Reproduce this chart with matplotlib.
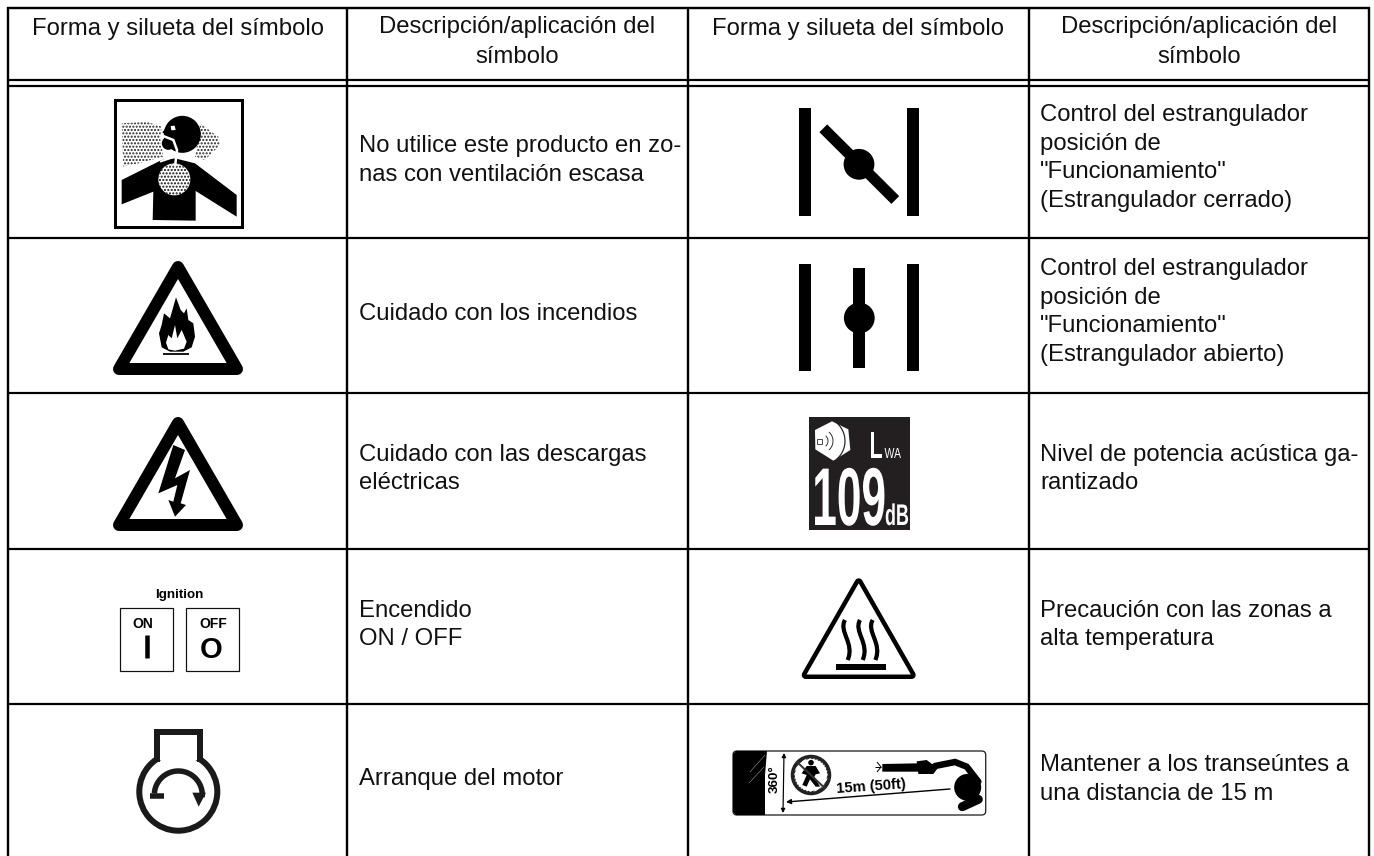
import numpy as np
import matplotlib
matplotlib.use("Agg")
import matplotlib.pyplot as plt
from matplotlib.patches import Polygon, Circle, Rectangle, FancyBboxPatch, PathPatch
from matplotlib.path import Path
from matplotlib.patheffects import AbstractPathEffect
from matplotlib.transforms import Affine2D

plt.rcParams['font.family'] = ['Liberation Sans', 'DejaVu Sans']

# table text
headers = ["Forma y silueta del símbolo", "Descripción/aplicación del\nsímbolo",
           "Forma y silueta del símbolo", "Descripción/aplicación del\nsímbolo"]
left_desc = [["No utilice este producto en zo-", "nas con ventilación escasa"],
             ["Cuidado con los incendios"],
             ["Cuidado con las descargas", "eléctricas"],
             ["Encendido", "ON / OFF"],
             ["Arranque del motor"]]
right_desc = [["Control del estrangulador", "posición de", '"Funcionamiento"', "(Estrangulador cerrado)"],
              ["Control del estrangulador", "posición de", '"Funcionamiento"', "(Estrangulador abierto)"],
              ["Nivel de potencia acústica ga-", "rantizado"],
              ["Precaución con las zonas a", "alta temperatura"],
              ["Mantener a los transeúntes a", "una distancia de 15 m"]]

# table grid, in pixels of the page
col_x = [8, 347, 688, 1029, 1369]
head_y = [8, 80, 86]
row_y = [238, 393, 549, 704]
row_mid = [162, 316, 470.5, 626.5, 781]
FS = 17.2
LH = 28.8
PX = 72 / 100  # one pixel in points

fig = plt.figure(figsize=(13.74, 8.56), dpi=100)
ax = fig.add_axes([0, 0, 1, 1])
ax.set_xlim(0, 1374)
ax.set_ylim(856, 0)
ax.axis('off')


class Squeeze(AbstractPathEffect):
    # narrow glyphs, the sign uses a condensed face
    def __init__(self, sx, dx=0):
        super().__init__()
        self.sx = sx
        self.dx = dx

    def draw_path(self, renderer, gc, tpath, affine, rgbFace=None):
        t = Affine2D().scale(self.sx, 1) + affine + Affine2D().translate(self.dx, 0)
        renderer.draw_path(gc, tpath, t, rgbFace)


def zp(ox, oy, pts):
    # points read in a 3x crop, back to page pixels
    return [(ox + x / 3, oy + y / 3) for x, y in pts]


def poly(pts, fc='k', **kw):
    kw.setdefault('lw', 0)
    p = Polygon(pts, closed=True, facecolor=fc, edgecolor=kw.pop('ec', fc), **kw)
    ax.add_patch(p)
    return p


def line(xs, ys, w, c='k', cap='butt', z=None):
    ax.plot(xs, ys, color=c, lw=w * PX, solid_capstyle=cap, solid_joinstyle='miter', zorder=z)


def warn_triangle(cx, top, bottom, half, thick, r):
    ya, yb, hw = top + r, bottom - r, half - r
    ax.add_patch(Polygon([(cx, ya), (cx - hw, yb), (cx + hw, yb)], facecolor='k', edgecolor='k',
                         lw=2 * r * PX, joinstyle='round'))
    d = thick - r
    poly([(cx, ya + 2 * d), (cx - hw + 1.73 * d, yb - d), (cx + hw - 1.73 * d, yb - d)], fc='w')


# grid
for x in col_x:
    line([x, x], [head_y[0] - 1, 856], 2.4)
line([col_x[0] - 1, col_x[-1] + 1], [head_y[0], head_y[0]], 2.4)
for y in head_y[1:] + row_y:
    line([col_x[0], col_x[-1]], [y, y], 2.2)

# header and description text
for i, h in enumerate(headers):
    parts = h.split("\n")
    ys = [35] if len(parts) == 1 else [33, 63]
    for s, y in zip(parts, ys):
        ax.text((col_x[i] + col_x[i + 1]) / 2, y, s, ha='center', va='baseline', fontsize=FS, color='#111111')

for rows, x in [(left_desc, 359), (right_desc, 1040)]:
    for mid, lines in zip(row_mid, rows):
        off = 2 if len(lines) == 4 else 4.5
        y0 = mid + off - (len(lines) - 1) * LH / 2
        for j, s in enumerate(lines):
            ax.text(x, y0 + j * LH, s, ha='left', va='baseline', fontsize=FS, color='#111111')

# --- ventilation sign
ax.add_patch(Rectangle((115, 100), 127, 127, fc='w', ec='k', lw=3 * PX))
for s in ([(50, 85), (125, 80), (170, 95), (165, 130), (175, 185), (100, 205), (55, 215)],
          [(285, 85), (340, 125), (345, 150), (300, 195), (270, 185), (280, 130)]):
    ax.add_patch(Polygon(zp(105, 95, s), facecolor='w', edgecolor='#222222', lw=0, hatch='.....'))
poly(zp(105, 95, [(50, 255), (170, 195), (210, 190), (270, 205), (395, 300), (395, 365), (272, 288), (272, 377), (143, 375), (145, 290), (50, 328)]))
ax.add_patch(Circle(zp(105, 95, [(232, 118)])[0], 18.5, fc='k', lw=0))
poly(zp(105, 95, [(172, 112), (205, 72), (235, 100), (215, 150), (190, 125)]))
ax.add_patch(Circle(zp(105, 95, [(190, 145)])[0], 6.5, fc='k', lw=0))
poly(zp(105, 95, [(197, 93), (209, 92), (212, 105), (199, 106)]), fc='w')
tube = zp(105, 95, [(172, 122), (205, 135), (216, 165), (210, 215)])
line([p[0] for p in tube], [p[1] for p in tube], 2.5, c='w')
arch = zp(105, 95, [(165, 200), (210, 185), (265, 198)])
line([p[0] for p in arch], [p[1] for p in arch], 2, c='w')
ax.add_patch(Circle(zp(105, 95, [(208, 253)])[0], 16, facecolor='w', edgecolor='#111111', lw=0, hatch='.....'))

# --- fire sign
warn_triangle(178, 261, 375, 65, 12, 6)
poly(zp(60, 210, [(348, 262), (362, 300), (372, 310), (380, 295), (385, 330), (400, 340), (405, 380), (395, 412), (370, 425),
                  (330, 425), (305, 412), (297, 370), (305, 345), (312, 310), (330, 325), (340, 290)]))
poly(zp(60, 210, [(318, 398), (325, 375), (335, 385), (345, 345), (352, 385), (365, 360), (380, 395), (372, 416), (345, 422), (325, 418)]), fc='w')
line([163, 189], [354, 354], 1.8)

# --- electric sign
warn_triangle(178, 417, 531, 65, 12, 6)
poly(zp(60, 400, [(340, 135), (375, 150), (345, 235), (390, 210), (362, 310), (378, 315), (345, 350), (325, 300), (340, 305), (352, 255), (295, 280)]))

# --- ignition
ax.text(179, 598, "Ignition", ha='center', va='baseline', fontsize=9.6, fontweight='bold', color='k')
for x0 in (119.5, 186):
    ax.add_patch(Rectangle((x0, 608), 53, 63, fc='w', ec='#111111', lw=1.2 * PX))
ax.text(143, 627.5, "ON", ha='center', va='baseline', fontsize=10, fontweight='bold', color='k')
ax.text(213, 627.5, "OFF", ha='center', va='baseline', fontsize=10, fontweight='bold', color='k')
line([147, 147], [635, 657.5], 4.5)
ax.text(211.5, 657.5, "O", ha='center', va='baseline', fontsize=21, fontweight='bold', color='k')

# --- engine start
ax.add_patch(Circle((178.3, 791.7), 39, fc='w', ec='#1a1a1a', lw=6 * PX))
ax.add_patch(Rectangle((157, 738), 43, 22, fc='w', ec='none', zorder=2.5))
line([157, 157, 199.7, 199.7], [762, 732.3, 732.3, 762], 6, c='#1a1a1a', z=3)
t = np.linspace(np.pi * 1.02, np.pi * 2.03, 40)
line(178.3 + 24 * np.cos(t), 795 + 24 * np.sin(t), 5.5, c='#1a1a1a')
line([150, 164], [796, 796], 5.5, c='#1a1a1a')
poly(zp(60, 400, [(397, 1178), (438, 1178), (416, 1220)]), fc='#1a1a1a')

# --- choke closed
ax.add_patch(Rectangle((799, 108), 12, 108, fc='k', lw=0))
ax.add_patch(Rectangle((906.5, 108), 12, 108, fc='k', lw=0))
line([823.3, 895.3], [128.3, 200], 11)
ax.add_patch(Circle((859, 164.3), 15.4, fc='k', lw=0))

# --- choke open
ax.add_patch(Rectangle((799.3, 264.3), 12, 107, fc='k', lw=0))
ax.add_patch(Rectangle((907, 264.3), 12, 107, fc='k', lw=0))
ax.add_patch(Rectangle((853, 268.3), 12.4, 99.7, fc='k', lw=0))
ax.add_patch(Circle((859.3, 318), 15.4, fc='k', lw=0))

# --- sound power sign
SIGN = '#231f20'
ax.add_patch(Rectangle((809, 416.7), 101, 113.3, fc=SIGN, lw=0))
poly(zp(740, 350, [(225, 240), (276, 214), (325, 238), (331, 300), (280, 332), (226, 298)]), fc='w')
a = np.linspace(-0.85, 0.85, 20)
for r, w in ((7, 0.9), (12, 0.9), (24, 1.2)):
    line(821 + r * np.cos(a), 441 + r * np.sin(a), w, c=SIGN)
ax.add_patch(Rectangle((817, 439), 4.5, 5, fc='w', ec=SIGN, lw=0.8 * PX))
ax.text(884, 458, "L", ha='right', va='baseline', fontsize=27, fontweight='bold', color='w', path_effects=[Squeeze(0.6, 8)])
ax.text(884.5, 458, "WA", ha='left', va='baseline', fontsize=10.5, color='w', path_effects=[Squeeze(0.72)])
ax.text(884, 525, "109", ha='right', va='baseline', fontsize=59, fontweight='bold', color='w', path_effects=[Squeeze(0.54, 65)])
ax.text(885, 525, "dB", ha='left', va='baseline', fontsize=21.5, fontweight='bold', color='w', path_effects=[Squeeze(0.6)])

# --- hot surface
warn_triangle(858.7, 578.3, 679, 57, 4.5, 4)
for x0 in (375, 420, 458):
    waves = [(x0, 420), (x0 - 20, 455), (x0 + 30, 490), (x0 + 8, 540)]
    ax.add_patch(PathPatch(Path(zp(720, 480, waves), [Path.MOVETO, Path.CURVE4, Path.CURVE4, Path.CURVE4]),
                           fc='none', ec='k', lw=4.2 * PX))
ax.add_patch(Rectangle((836, 664), 50, 6, fc='k', lw=0))

# --- keep distance sign
ax.add_patch(FancyBboxPatch((733, 751), 252.7, 64, boxstyle='round,pad=0,rounding_size=4', mutation_aspect=1,
                            fc='w', ec='#222222', lw=1.3 * PX))
poly([(733, 754), (736, 751), (767, 751), (765, 775), (765, 815), (736, 815), (733, 812)])
line([750, 765], [772, 755], 0.5, c='#aaaaaa')
line([749, 764], [783, 767], 0.5, c='#aaaaaa')
ax.text(775, 779, "360°", rotation=90, ha='center', va='center', fontsize=9.6, fontweight='bold', color='k')
ax.annotate("", xy=(784, 753), xytext=(783, 813), arrowprops=dict(arrowstyle='<|-|>', color='k', lw=1.2 * PX, mutation_scale=6, shrinkA=0, shrinkB=0))
ax.add_patch(Circle((811, 775), 18.5, fc='w', ec='#222222', lw=3.5 * PX, hatch='////////'))
ax.add_patch(Circle((811, 775), 16, fc='w', ec='none'))
sl = zp(725, 740, [(215, 65), (300, 145)])
line([sl[0][0], sl[1][0]], [sl[0][1], sl[1][1]], 2, c='#333333')
ax.add_patch(Circle(zp(725, 740, [(258, 68)])[0], 2.8, fc='k', lw=0))
poly(zp(725, 740, [(245, 78), (272, 78), (285, 100), (272, 103), (268, 110), (285, 140), (272, 140), (255, 118), (245, 140), (232, 135), (245, 105), (230, 100)]))
ax.text(871.5, 791, "15m (50ft)", rotation=4, rotation_mode='anchor', ha='center', va='baseline', fontsize=10.6, fontweight='bold', color='k')
ax.annotate("", xy=(786, 802), xytext=(950, 789), arrowprops=dict(arrowstyle='-|>', color='k', lw=1.4 * PX, mutation_scale=7, shrinkA=0, shrinkB=0))
# blower
poly(zp(725, 740, [(472, 72), (580, 70), (580, 95), (472, 95)]))
poly(zp(725, 740, [(575, 64), (605, 60), (638, 85), (625, 102), (580, 102)]))
arm = zp(725, 740, [(630, 78), (690, 66), (725, 80), (760, 125)])
line([p[0] for p in arm], [p[1] for p in arm], 6.5, cap='round')
ax.add_patch(Circle(zp(725, 740, [(728, 142)])[0], 13.5, fc='k', lw=0))
pod = zp(725, 740, [(712, 200), (760, 178)])
line([pod[0][0], pod[1][0]], [pod[0][1], pod[1][1]], 9, cap='round')
line([877, 881, 877], [762, 767, 772], 1)
line([875, 881], [767, 767], 1)

fig.savefig('out.png', dpi=100)
